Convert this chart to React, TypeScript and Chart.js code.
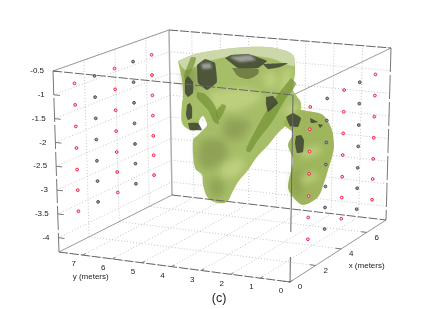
import React, { useEffect, useRef } from "react";
import { Chart, registerables } from "chart.js";

// ---- axis limits and ticks (metres)
const xLimit = 7.5;
const yLimit = 7.8;
const zTop = -0.5;
const zBottom = -4.3;
const xTicks = [0, 2, 4, 6];
const yTicks = [0, 1, 2, 3, 4, 5, 6, 7];
const zTicks = [-0.5, -1, -1.5, -2, -2.5, -3, -3.5, -4];

// ---- sensor grid: same x/z positions on the two y planes
const sensorX = [1.35, 2.65, 3.95, 5.15, 6.35];
const sensorZ = [-0.92, -1.38, -1.84, -2.3, -2.76, -3.2, -3.65];
const sensorPlanes = [yLimit, 0];

// ---- isosurface silhouettes read in the view plane
const bodyOutline: number[][] = [[178,61],[195,54],[218,50],[248,47],[275,48],[293,55],[295,73],[293,90],[301,103],[298,118],[288,124],[278,133],[270,143],[257,157],[248,170],[238,182],[232,193],[227,202],[218,203],[208,198],[203,185],[202,175],[195,168],[193,140],[198,135],[202,131],[207,125],[203,116],[199,121],[199,129],[190,130],[182,123],[182,103],[183,97],[182,80],[178,61]];
const armOutline: number[][] = [[284,122],[295,110],[307,111],[323,115],[332,130],[334,147],[332,157],[328,170],[325,180],[318,197],[303,205],[293,197],[288,187],[293,160],[288,145],[293,133],[284,125],[284,122]];
const capOutline: number[][] = [[178,61],[195,54],[218,50],[248,47],[275,48],[293,55],[294,66],[270,58],[240,55],[205,62],[186,70],[178,61]];
const strandOutlines: number[][][] = [
  [[291,78],[296,84],[285,100],[272,122],[258,140],[250,152],[246,150],[254,133],[264,115],[276,97],[291,78]],
  [[197,92],[205,94],[215,106],[219,124],[214,122],[208,110],[197,98],[197,92]],
  [[191,57],[196,58],[191,72],[186,80],[184,76],[191,57]],
  [[222,104],[226,106],[219,120],[216,112],[222,104]],
];
const darkOutlines: number[][][] = [
  [[197,65],[205,59],[215,63],[217,82],[207,90],[198,83],[197,65]],
  [[185,80],[188,76],[193,82],[193,93],[188,97],[185,93],[185,80]],
  [[187,105],[190,103],[192,107],[192,118],[188,120],[186,115],[187,105]],
  [[188,123],[198,123],[202,130],[190,130],[188,123]],
  [[225,58],[231,55],[248,54],[267,61],[258,68],[238,68],[225,58]],
  [[263,64],[288,63],[280,67],[268,69],[263,64]],
  [[266,97],[273,96],[278,103],[268,112],[266,104],[266,97]],
  [[286,117],[293,113],[301,118],[298,127],[290,126],[286,117]],
  [[296,136],[301,135],[304,140],[303,152],[297,153],[295,143],[296,136]],
  [[310,118],[318,122],[311,123],[310,118]],
  [[318,124],[323,125],[320,128],[318,124]],
];
const bowlOutline: number[][] = [[232,68],[258,69],[258,74],[248,79],[238,76],[232,68]];
const plateLights: number[][][] = [
  [[229,57],[250,55],[256,60],[240,62],[229,57]],
  [[201,64],[210,63],[212,68],[203,69],[201,64]],
];
const softLight: number[][][] = [
  [[210,92],[245,88],[262,96],[240,110],[212,108],[210,92]],
  [[222,165],[240,158],[244,168],[232,178],[222,176],[222,165]],
  [[300,150],[318,146],[322,152],[303,158],[300,150]],
  [[300,178],[316,172],[318,178],[302,184],[300,178]],
  [[284,70],[291,70],[288,95],[280,90],[284,70]],
  [[266,72],[276,74],[274,88],[264,84],[266,72]],
  [[286,104],[298,106],[296,114],[286,114],[286,104]],
];
const softDark: number[][][] = [
  [[200,140],[222,140],[228,155],[208,170],[198,160],[200,140]],
  [[208,178],[224,182],[220,198],[212,196],[208,178]],
  [[294,170],[300,170],[300,198],[292,190],[294,170]],
  [[225,118],[250,122],[240,140],[224,136],[225,118]],
  [[183,68],[197,68],[196,90],[186,92],[183,68]],
];

// ---- corners of the box in the view plane [x=0|max, y=0|max, z=top|bottom]
const cornerF = { top: [293, 95], bottom: [290, 282] };
const cornerR = { top: [391, 48], bottom: [386, 220] };
const cornerL = { top: [53, 71], bottom: [59, 252] };
const cornerB = { top: [169, 30], bottom: [172, 195] };

function project(x: number, y: number, z: number) {
  const u = x / xLimit, v = y / yLimit, w = (z - zTop) / (zBottom - zTop);
  const mix = (k: "top" | "bottom", i: number) =>
    (1 - u) * (1 - v) * cornerF[k][i] + u * (1 - v) * cornerR[k][i] + (1 - u) * v * cornerL[k][i] + u * v * cornerB[k][i];
  return { x: (1 - w) * mix("top", 0) + w * mix("bottom", 0), y: (1 - w) * mix("top", 1) + w * mix("bottom", 1) };
}
const GAP = { x: NaN, y: NaN };
const toPts = (a: number[][]) => a.map(([x, y]) => ({ x, y }));
const segs = (list: number[][][]) => {
  const out: { x: number; y: number }[] = [];
  list.forEach(([a, b]) => out.push(project(a[0], a[1], a[2]), project(b[0], b[1], b[2]), GAP));
  return out;
};

const gridSegs = segs([
  ...xTicks.map((x) => [[x, 0, zBottom], [x, yLimit, zBottom]]),
  ...yTicks.map((y) => [[0, y, zBottom], [xLimit, y, zBottom]]),
  ...xTicks.slice(1).map((x) => [[x, yLimit, zBottom], [x, yLimit, zTop]]),
  ...yTicks.slice(1).map((y) => [[xLimit, y, zBottom], [xLimit, y, zTop]]),
  ...zTicks.map((z) => [[0, yLimit, z], [xLimit, yLimit, z]]),
  ...zTicks.map((z) => [[xLimit, 0, z], [xLimit, yLimit, z]]),
]);
const tickSegs = segs([
  ...zTicks.map((z) => [[0, yLimit - 0.2, z], [0, yLimit, z]]),
  ...yTicks.map((y) => [[0.2, y, zBottom], [0, y, zBottom]]),
  ...xTicks.map((x) => [[x, 0.2, zBottom], [x, 0, zBottom]]),
]);
const solidEdges = segs([
  [[0, yLimit, zTop], [xLimit, yLimit, zTop]],
  [[0, 0, zTop], [xLimit, 0, zTop]],
  [[0, yLimit, zBottom], [xLimit, yLimit, zBottom]],
  [[0, 0, zBottom], [xLimit, 0, zBottom]],
]);
const dashedEdges = segs([
  [[0, yLimit, zTop], [0, 0, zTop]],
  [[xLimit, yLimit, zTop], [xLimit, 0, zTop]],
  [[0, yLimit, zBottom], [0, 0, zBottom]],
  [[xLimit, yLimit, zBottom], [xLimit, 0, zBottom]],
]);
const backEdge = segs([[[xLimit, yLimit, zTop], [xLimit, yLimit, zBottom]]]);
const frontEdge = segs([[[0, 0, zTop], [0, 0, zBottom]]]);
const sideEdges = segs([
  [[0, yLimit, zTop], [0, yLimit, zBottom]],
  [[xLimit, 0, zTop], [xLimit, 0, zBottom]],
]);
const sensors = (plane: number, colIdx: number[]) =>
  colIdx.flatMap((c) => sensorZ.map((z) => project(sensorX[c], plane, z)));

const shape = (data: number[][], color: string, order: number, extra: object = {}) => ({
  data: toPts(data), showLine: true, fill: "shape", backgroundColor: color, borderWidth: 0,
  borderColor: "transparent", pointRadius: 0, tension: 0.3, order, ...extra,
});
const line = (data: object[], color: string, width: number, dash: number[], order: number) => ({
  data, showLine: true, fill: false, borderColor: color, borderWidth: width, borderDash: dash,
  pointRadius: 0, tension: 0, spanGaps: false, order,
});
const dots = (data: object[], stroke: string, inner: string, order: number) => ({
  data, showLine: false, pointRadius: 1.4, borderWidth: 1, pointBorderColor: stroke, pointBackgroundColor: inner, order,
});

const softBlurPlugin = {
  id: "softBlur",
  beforeDatasetDraw(chart: any, args: any) {
    const b = chart.data.datasets[args.index].softBlur;
    if (b) chart.ctx.filter = `blur(${b}px)`;
  },
  afterDatasetDraw(chart: any) {
    chart.ctx.filter = "none";
  },
};
Chart.register(softBlurPlugin, ...registerables);

export default function App() {
  const ref = useRef<HTMLCanvasElement>(null);
  useEffect(() => {
    const font = "Liberation Sans";
    const labelPlugin = {
      id: "labels3d",
      afterDraw(chart: any) {
        const { ctx, scales } = chart;
        const put = (t: string, x: number, y: number, size = 8, align: CanvasTextAlign = "center") => {
          ctx.font = `${size}px "${font}"`;
          ctx.fillStyle = "#222";
          ctx.textAlign = align;
          ctx.textBaseline = "middle";
          ctx.fillText(t, scales.x.getPixelForValue(x), scales.y.getPixelForValue(y));
        };
        zTicks.forEach((z) => {
          const p = project(0, yLimit, z);
          put(String(z), p.x - 9, p.y, 8, "right");
        });
        yTicks.forEach((y) => {
          const p = project(0, y, zBottom);
          put(String(y), p.x - 9, p.y + 9);
        });
        xTicks.forEach((x) => {
          const p = project(x, 0, zBottom);
          put(String(x), p.x + 10, p.y + 5);
        });
        const yl = project(0, yLimit - 0.9, zBottom);
        put("y (meters)", yl.x + 5, yl.y + 21);
        const xl = project(xLimit - 1.2, 0, zBottom);
        put("x (meters)", xl.x - 4, xl.y + 36);
        put("(c)", 219, 299, 12.5);
      },
    };
    const chart = new Chart(ref.current!, {
      type: "scatter",
      data: {
        datasets: [
          line(gridSegs, "#c4c4c4", 1, [1, 2], 100),
          line(solidEdges, "#9a9a9a", 1, [], 95),
          line(backEdge, "#b0b0b0", 1.5, [], 95),
          dots(sensors(sensorPlanes[0], [0, 2, 4]), "#ee2244", "#fbd5da", 90),
          dots(sensors(sensorPlanes[0], [1, 3]), "#4a4f5a", "#9aa0aa", 90),
          shape(bodyOutline, "rgba(160,184,92,0.92)", 80),
          shape(armOutline, "rgba(154,178,84,0.95)", 79),
          ...softDark.map((o) => shape(o, "rgba(112,128,62,0.45)", 76, { softBlur: 4 })),
          ...softLight.map((o) => shape(o, "rgba(205,222,140,0.55)", 75, { softBlur: 3 })),
          shape(capOutline, "rgba(214,222,186,0.8)", 72),
          shape(bowlOutline, "rgba(98,108,58,0.75)", 71),
          ...strandOutlines.map((o) => shape(o, "rgba(116,146,52,0.7)", 70)),
          ...darkOutlines.map((o) => shape(o, "rgba(62,68,50,0.85)", 68, { tension: 0.1 })),
          ...plateLights.map((o) => shape(o, "rgba(170,170,170,0.85)", 66, { tension: 0.1, softBlur: 0.8 })),
          line(dashedEdges, "#666", 1, [9, 2], 60),
          line(frontEdge, "#666", 1, [137, 25, 25], 60),
          line(sideEdges, "#777", 1, [24, 3], 60),
          line(tickSegs, "#777", 1, [], 60),
          dots(sensors(sensorPlanes[1], [0, 2, 4]), "#ee2244", "#fbd5da", 50),
          dots(sensors(sensorPlanes[1], [1, 3]), "#4a4f5a", "#9aa0aa", 50),
        ] as any,
      },
      options: {
        responsive: false,
        animation: false,
        layout: { padding: 0, autoPadding: false },
        scales: {
          x: { type: "linear", min: 0, max: 437, display: false },
          y: { type: "linear", min: 0, max: 309, reverse: true, display: false },
        },
        plugins: { legend: { display: false }, tooltip: { enabled: false }, title: { display: false } },
      } as any,
      plugins: [labelPlugin],
    });
    return () => chart.destroy();
  }, []);
  return (
    <canvas
      ref={ref}
      width={437}
      height={309}
      style={{ position: "absolute", left: 0, top: 0, display: "block", background: "#fff", filter: "blur(0.4px)" }}
    />
  );
}
